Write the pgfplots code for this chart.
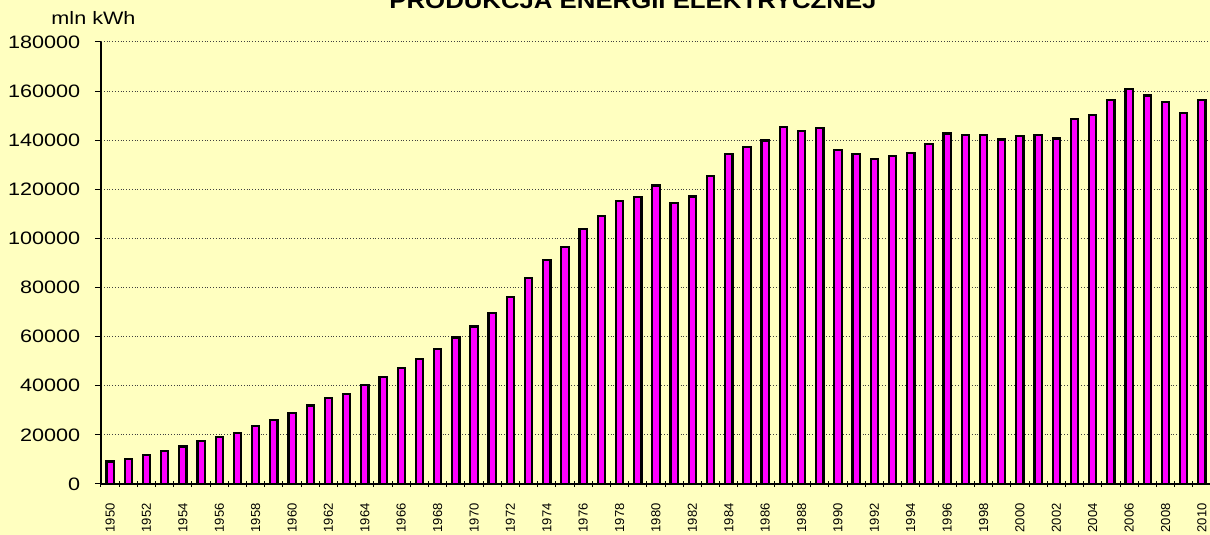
\documentclass[border=0pt]{standalone}
\usepackage{pgfplots}
\pgfplotsset{compat=1.18}
\usepackage{fontspec}
\setmainfont{Liberation Sans}
\definecolor{bgyel}{HTML}{FFFFC0}
\definecolor{barmag}{HTML}{FF00FF}
\begin{document}
\begin{tikzpicture}
\path[use as bounding box, fill=bgyel] (-50.5pt,-25.5pt) rectangle (554.5pt,242pt);
\begin{axis}[
  at={(0pt,0pt)}, anchor=south west,
  scale only axis, width=555pt, height=221pt,
  xmin=1949.5, xmax=2010.5, ymin=0, ymax=180000,
  axis x line*=bottom, axis y line*=left,
  axis line style={line width=0.6pt, black},
  ytick={0,20000,40000,60000,80000,100000,120000,140000,160000,180000},
  yticklabels={0,20000,40000,60000,80000,100000,120000,140000,160000,180000},
  scaled y ticks=false,
  ymajorgrids,
  major grid style={densely dotted, gray!50!black, line width=0.5pt},
  xtick={1949.5,1950.5,...,2010.5},
  xticklabels={},
  extra x ticks={1950,1952,1954,1956,1958,1960,1962,1964,1966,1968,1970,1972,1974,1976,1978,1980,1982,1984,1986,1988,1990,1992,1994,1996,1998,2000,2002,2004,2006,2008,2010},
  extra x tick labels={1950,1952,1954,1956,1958,1960,1962,1964,1966,1968,1970,1972,1974,1976,1978,1980,1982,1984,1986,1988,1990,1992,1994,1996,1998,2000,2002,2004,2006,2008,2010},
  extra x tick style={major tick length=0pt,
    tick label style={font=\fontsize{6.5}{7}\selectfont, rotate=90, anchor=east, inner sep=0pt}},
  major tick length=3pt,
  tick style={black, line width=0.5pt},
  xtick align=center, ytick align=outside,
  yticklabel style={font=\fontsize{9}{10}\selectfont, xscale=1.2, inner sep=0pt, xshift=-6pt},
  xticklabel style={font=\fontsize{6.5}{7}\selectfont, inner sep=0pt},
  xticklabel shift=9.5pt,
  clip=false,
]
\addplot[ybar, bar width=0.40, fill=barmag, draw=black, line width=1.1pt] coordinates {
(1950,9200) (1951,10300) (1952,11900) (1953,13500) (1954,15300) (1955,17600) (1956,19200) (1957,20900) (1958,23700) (1959,26200)
(1960,29000) (1961,32000) (1962,35100) (1963,36600) (1964,40300) (1965,43500) (1966,47100) (1967,51000) (1968,55100) (1969,59700)
(1970,64100) (1971,69500) (1972,76100) (1973,84000) (1974,91300) (1975,96600) (1976,103700) (1977,109000) (1978,115100) (1979,117000)
(1980,121600) (1981,114500) (1982,117100) (1983,125400) (1984,134500) (1985,137300) (1986,139900) (1987,145500) (1988,143800) (1989,145100)
(1990,135900) (1991,134300) (1992,132400) (1993,133500) (1994,134900) (1995,138500) (1996,142700) (1997,142200) (1998,142200) (1999,140300)
(2000,141700) (2001,142200) (2002,140700) (2003,148600) (2004,150400) (2005,156300) (2006,160700) (2007,158200) (2008,155600) (2009,151000)
(2010,156500)
};
\end{axis}
\node[anchor=base, font=\fontsize{9}{10}\selectfont, xscale=1.2] at (-3.75pt,229.75pt) {mln kWh};
\node[anchor=base, font=\bfseries\fontsize{11.2}{12}\selectfont, xscale=1.15] at (266pt,237.75pt) {PRODUKCJA ENERGII ELEKTRYCZNEJ};
\end{tikzpicture}
\end{document}
